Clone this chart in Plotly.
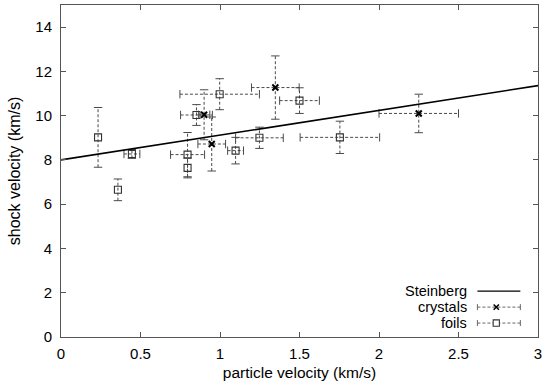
import plotly.graph_objects as go

# ---- data ----
steinberg_x = [0.0, 3.0]
steinberg_y = [8.0, 11.36]

crystals_x = [0.900, 0.948, 1.348, 2.250]
crystals_y = [10.04, 8.72, 11.27, 10.10]
crystals_xerr = [0.036, 0.087, 0.150, 0.250]
crystals_yerr = [1.13, 1.22, 1.43, 0.87]

foils_x = [0.233, 0.358, 0.446, 0.796, 0.796, 0.852, 0.998, 1.098, 1.248, 1.500, 1.754]
foils_y = [9.02, 6.65, 8.27, 8.24, 7.64, 10.03, 10.97, 8.42, 9.00, 10.68, 9.02]
foils_xerr = [0.0, 0.0, 0.05, 0.107, 0.0, 0.10, 0.25, 0.05, 0.15, 0.125, 0.25]
foils_yerr = [1.35, 0.49, 0.20, 1.00, 0.45, 0.47, 0.70, 0.60, 0.48, 0.58, 0.73]

x_ticks = [0, 0.5, 1, 1.5, 2, 2.5, 3]
x_tick_text = ["0", "0.5", "1", "1.5", "2", "2.5", "3"]
y_ticks = [0, 2, 4, 6, 8, 10, 12, 14]

FONT = "Liberation Sans, Arial, sans-serif"
ERR_COLOR = "#4a4a4a"

fig = go.Figure()


def add_errorbars(xs, ys, xe, ye):
    lx, ly = [], []
    capx_x, capx_y, capy_x, capy_y = [], [], [], []
    for x, y, dx, dy in zip(xs, ys, xe, ye):
        if dx > 0:
            lx += [x - dx, x + dx, None]
            ly += [y, y, None]
            capx_x += [x - dx, x + dx]
            capx_y += [y, y]
        if dy > 0:
            lx += [x, x, None]
            ly += [y - dy, y + dy, None]
            capy_x += [x, x]
            capy_y += [y - dy, y + dy]
    fig.add_trace(go.Scatter(x=lx, y=ly, mode="lines", showlegend=False,
                             hoverinfo="skip",
                             line=dict(color=ERR_COLOR, width=1, dash="3px,2px")))
    fig.add_trace(go.Scatter(x=capx_x, y=capx_y, mode="markers", showlegend=False,
                             hoverinfo="skip",
                             marker=dict(symbol="line-ns", size=6,
                                         line=dict(color=ERR_COLOR, width=1))))
    fig.add_trace(go.Scatter(x=capy_x, y=capy_y, mode="markers", showlegend=False,
                             hoverinfo="skip",
                             marker=dict(symbol="line-ew", size=6,
                                         line=dict(color=ERR_COLOR, width=1))))


add_errorbars(foils_x, foils_y, foils_xerr, foils_yerr)
add_errorbars(crystals_x, crystals_y, crystals_xerr, crystals_yerr)

fig.add_trace(go.Scatter(x=steinberg_x, y=steinberg_y, mode="lines", name="Steinberg",
                         showlegend=False, line=dict(color="black", width=1.6)))

fig.add_trace(go.Scatter(x=foils_x, y=foils_y, mode="markers", name="foils", showlegend=False,
                         marker=dict(symbol="square-open", size=7, color="#333",
                                     line=dict(width=1.1, color="#333"))))
fig.add_trace(go.Scatter(x=crystals_x, y=crystals_y, mode="markers", name="crystals",
                         showlegend=False,
                         marker=dict(symbol="x-thin-open", size=6, color="black",
                                     line=dict(width=2, color="black"))))

# ---- manual gnuplot-style legend (text left, sample right) ----
shapes = []
annotations = []
Y_ST, Y_CR, Y_FO = 0.138, 0.090, 0.042
leg_items = [("Steinberg", Y_ST), ("crystals", Y_CR), ("foils", Y_FO)]
x0, x1, xm = 0.873, 0.963, 0.9125
for label, yy in leg_items:
    annotations.append(dict(text=label, x=0.8535, y=yy, xref="paper", yref="paper",
                            xanchor="right", yanchor="middle", showarrow=False,
                            borderpad=0,
                            font=dict(family=FONT, size=14.5, color="black")))
# Steinberg sample
shapes.append(dict(type="line", xref="paper", yref="paper", x0=x0, x1=x1,
                   y0=Y_ST, y1=Y_ST, line=dict(color="black", width=1.2)))
for yy in (Y_CR, Y_FO):
    shapes.append(dict(type="line", xref="paper", yref="paper", x0=x0, x1=x1,
                       y0=yy, y1=yy, line=dict(color="#666", width=1, dash="3px,2px")))
    for xc in (x0, x1):
        shapes.append(dict(type="line", xref="paper", yref="paper", x0=xc, x1=xc,
                           y0=yy - 0.009, y1=yy + 0.009, line=dict(color="#666", width=1)))
# x marker for crystals
dxm, dym = 0.0055, 0.008
shapes.append(dict(type="line", xref="paper", yref="paper", x0=xm - dxm, x1=xm + dxm,
                   y0=Y_CR - dym, y1=Y_CR + dym, line=dict(color="black", width=1.5)))
shapes.append(dict(type="line", xref="paper", yref="paper", x0=xm - dxm, x1=xm + dxm,
                   y0=Y_CR + dym, y1=Y_CR - dym, line=dict(color="black", width=1.5)))
# square for foils
shapes.append(dict(type="rect", xref="paper", yref="paper", x0=xm - 0.0065, x1=xm + 0.0065,
                   y0=Y_FO - 0.0095, y1=Y_FO + 0.0095, fillcolor="white",
                   line=dict(color="#333", width=1.1)))

axis_common = dict(showgrid=False, zeroline=False, showline=True, linecolor="#555",
                   linewidth=1, mirror="ticks", ticks="inside", ticklen=5,
                   tickcolor="#555", tickfont=dict(family=FONT, size=15, color="black"))

fig.update_layout(
    width=546, height=388,
    margin=dict(l=61, r=5, t=4, b=51),
    paper_bgcolor="white", plot_bgcolor="white",
    showlegend=False,
    shapes=shapes, annotations=annotations,
    xaxis=dict(range=[0, 3], tickvals=x_ticks, ticktext=x_tick_text,
               ticklabelstandoff=3,
               title=dict(text="particle velocity (km/s)", standoff=6,
                          font=dict(family=FONT, size=15.5, color="black")),
               **axis_common),
    yaxis=dict(range=[0, 15], tickvals=y_ticks, ticklabelstandoff=5,
               title=dict(text="shock velocity (km/s)", standoff=10,
                          font=dict(family=FONT, size=16, color="black")),
               **axis_common),
)

fig.write_html("out.html")
